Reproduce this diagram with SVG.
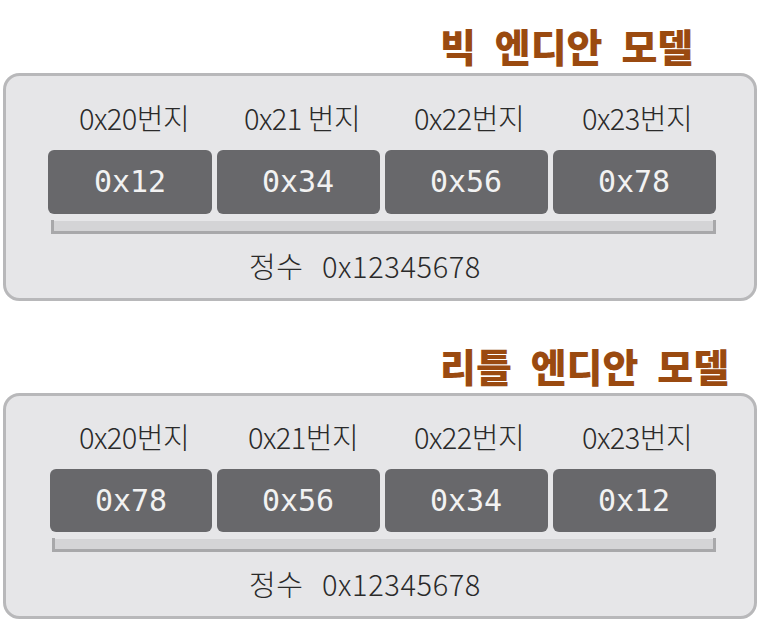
<svg xmlns="http://www.w3.org/2000/svg" width="772" height="636" viewBox="0 0 772 636">
<style>
.panel{fill:#e6e6e8;stroke:#b8b8ba;stroke-width:3}
.cell{fill:#68686b}
.ct{font-family:"DejaVu Sans Mono","Liberation Mono",monospace;font-size:30px;fill:#f2f2f2;text-anchor:middle}
.addr{font-family:"Noto Sans CJK KR","Noto Sans",sans-serif;font-size:29px;font-weight:300;fill:#2a2a2a;text-anchor:middle;letter-spacing:-0.5px}
.int{font-family:"Noto Sans CJK KR","Noto Sans",sans-serif;font-size:29px;font-weight:300;fill:#2a2a2a;letter-spacing:0.6px}
.title{font-family:"Noto Sans CJK KR",sans-serif;font-size:39px;font-weight:900;fill:#9a4a10;word-spacing:10px}
.bar{fill:#d4d4d6}
.brk{fill:none;stroke:#a8a8aa;stroke-width:3}
</style>
<rect width="772" height="636" fill="#ffffff"/>
<g id="big-endian">
<text class="title" x="440" y="62">빅 엔디안 모델</text>
<rect class="panel" x="4.5" y="74.5" width="751" height="225" rx="15"/>
<g id="big-addr">
<text class="addr" x="134" y="130">0x20번지</text>
<text class="addr" x="302" y="130">0x21 번지</text>
<text class="addr" x="469" y="130">0x22번지</text>
<text class="addr" x="637" y="130">0x23번지</text>
</g>
<g id="big-c0"><rect class="cell" x="48" y="150" width="164" height="64" rx="6"/><text class="ct" x="130" y="192">0x12</text></g>
<g id="big-c1"><rect class="cell" x="217" y="150" width="163" height="64" rx="6"/><text class="ct" x="298" y="192">0x34</text></g>
<g id="big-c2"><rect class="cell" x="385" y="150" width="163" height="64" rx="6"/><text class="ct" x="466" y="192">0x56</text></g>
<g id="big-c3"><rect class="cell" x="553" y="150" width="163" height="64" rx="6"/><text class="ct" x="634" y="192">0x78</text></g>
<rect class="bar" x="52" y="221" width="663" height="11"/>
<path class="brk" d="M52.5 220 V232.5 H714.5 V220"/>
<text class="int" x="249" y="278">정수</text>
<text class="int" x="322" y="278">0x12345678</text>
</g>
<g id="little-endian">
<text class="title" x="440" y="382">리틀 엔디안 모델</text>
<rect class="panel" x="4.5" y="394.5" width="751" height="223" rx="15"/>
<g id="little-addr">
<text class="addr" x="134" y="449">0x20번지</text>
<text class="addr" x="303" y="449">0x21번지</text>
<text class="addr" x="469" y="449">0x22번지</text>
<text class="addr" x="637" y="449">0x23번지</text>
</g>
<g id="little-c0"><rect class="cell" x="50" y="469" width="162" height="63" rx="6"/><text class="ct" x="131" y="511">0x78</text></g>
<g id="little-c1"><rect class="cell" x="217" y="469" width="163" height="63" rx="6"/><text class="ct" x="298" y="511">0x56</text></g>
<g id="little-c2"><rect class="cell" x="385" y="469" width="163" height="63" rx="6"/><text class="ct" x="466" y="511">0x34</text></g>
<g id="little-c3"><rect class="cell" x="553" y="469" width="163" height="63" rx="6"/><text class="ct" x="634" y="511">0x12</text></g>
<rect class="bar" x="53" y="539" width="662" height="11"/>
<path class="brk" d="M53.5 538 V550.5 H714.5 V538"/>
<text class="int" x="249" y="596">정수</text>
<text class="int" x="322" y="596">0x12345678</text>
</g>
</svg>
